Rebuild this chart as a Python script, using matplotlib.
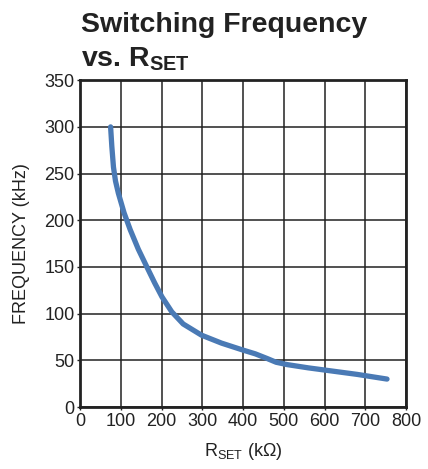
import numpy as np
import matplotlib.pyplot as plt

plt.rcParams['font.family'] = ['Liberation Sans', 'DejaVu Sans']
plt.rcParams['mathtext.default'] = 'regular'

# curve
r_set = [75, 78, 82, 87, 94, 108, 123, 143, 164, 183, 201, 225, 253, 298,
         347, 400, 430, 459, 481, 508, 560, 620, 680, 753]
freq = [300, 279, 257, 242, 229, 208, 190, 169, 150, 133, 118, 102, 89, 77,
        68.5, 61, 57, 52, 48, 45.5, 42, 38.5, 35, 30]

x_ticks = [0, 100, 200, 300, 400, 500, 600, 700, 800]
y_ticks = [0, 50, 100, 150, 200, 250, 300, 350]

fig = plt.figure(figsize=(4.28, 4.69), dpi=100)
ax = fig.add_axes([0.187, 0.132, 0.762, 0.697])

ax.plot(r_set, freq, color='#4a7ab5', lw=3.8, solid_capstyle='round',
        solid_joinstyle='round')

ax.set_xlim(0, 800)
ax.set_ylim(0, 350)
ax.set_xticks(x_ticks)
ax.set_yticks(y_ticks)
ax.grid(True, color='#222222', lw=1.1)
ax.set_axisbelow(True)
for s in ax.spines.values():
    s.set_linewidth(2)
    s.set_color('#222222')
ax.tick_params(labelsize=13, length=2, width=1, colors='#222222', pad=2)

ax.set_xlabel('R$_{SET}$ (k\u03a9)', fontsize=13, color='#222222', labelpad=8)
ax.set_ylabel('FREQUENCY (kHz)', fontsize=13, color='#222222', labelpad=10)

fig.text(0.19, 0.975, 'Switching Frequency\nvs. R$_{SET}$', fontsize=20.5,
         fontweight='bold', va='top', ha='left', color='#222222', linespacing=1.38)

fig.savefig('out.png', dpi=100)
